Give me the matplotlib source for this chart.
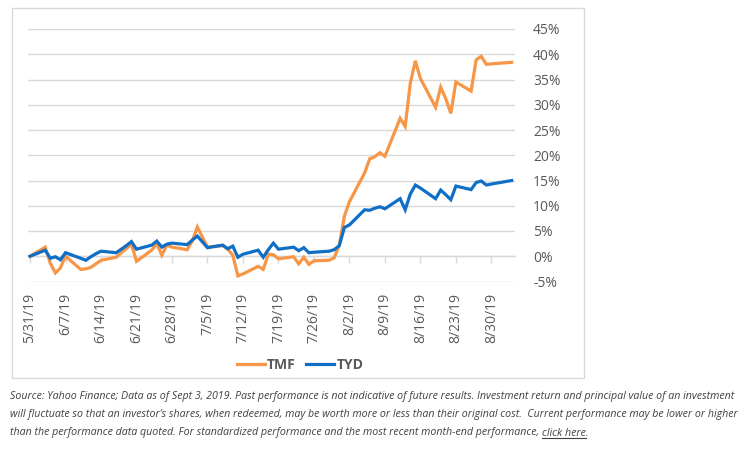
import matplotlib
matplotlib.use('Agg')
import matplotlib.pyplot as plt
import matplotlib.dates as mdates
from matplotlib.patches import Rectangle
from matplotlib.ticker import FuncFormatter
import pandas as pd

# trading days, 5/31/19 .. 9/3/19
dates = ['5/31/19',
         '6/3/19', '6/4/19', '6/5/19', '6/6/19', '6/7/19',
         '6/10/19', '6/11/19', '6/12/19', '6/13/19', '6/14/19',
         '6/17/19', '6/18/19', '6/19/19', '6/20/19', '6/21/19',
         '6/24/19', '6/25/19', '6/26/19', '6/27/19', '6/28/19',
         '7/1/19', '7/2/19', '7/3/19', '7/5/19',
         '7/8/19', '7/9/19', '7/10/19', '7/11/19', '7/12/19',
         '7/15/19', '7/16/19', '7/17/19', '7/18/19', '7/19/19',
         '7/22/19', '7/23/19', '7/24/19', '7/25/19', '7/26/19',
         '7/29/19', '7/30/19', '7/31/19', '8/1/19', '8/2/19',
         '8/5/19', '8/6/19', '8/7/19', '8/8/19', '8/9/19',
         '8/12/19', '8/13/19', '8/14/19', '8/15/19', '8/16/19',
         '8/19/19', '8/20/19', '8/21/19', '8/22/19', '8/23/19',
         '8/26/19', '8/27/19', '8/28/19', '8/29/19', '8/30/19',
         '9/3/19']

tmf = [0.0,
       1.8, -1.4, -3.3, -2.3, 0.0,
       -2.6, -2.5, -2.2, -1.5, -0.8,
       -0.2, 0.7, 1.5, 2.4, -1.0,
       1.2, 2.5, 0.2, 2.2, 1.8,
       1.3, 3.0, 5.8, 1.8,
       2.1, 1.4, 0.2, -3.9, -3.5,
       -2.0, -2.6, 0.4, 0.3, -0.5,
       -0.1, -1.5, -0.2, -1.6, -0.9,
       -0.8, -0.3, 2.2, 7.9, 10.8,
       16.5, 19.3, 19.7, 20.5, 19.8,
       27.3, 25.7, 34.2, 38.7, 35.2,
       29.5, 33.5, 31.2, 28.3, 34.5,
       32.7, 38.9, 39.6, 38.0, 38.1,
       38.4]

tyd = [0.0,
       1.2, -0.4, -0.1, -0.7, 0.7,
       -0.4, -0.8, -0.1, 0.5, 1.0,
       0.7, 1.4, 2.1, 2.9, 1.4,
       2.2, 3.0, 1.8, 2.4, 2.6,
       2.3, 3.2, 4.0, 1.7,
       2.2, 1.5, 2.0, -0.2, 0.4,
       1.2, -0.2, 1.3, 2.6, 1.4,
       1.8, 1.1, 1.7, 0.7, 0.8,
       1.0, 1.3, 2.1, 5.7, 6.2,
       9.2, 9.1, 9.5, 9.8, 9.4,
       11.4, 9.2, 12.3, 14.1, 13.5,
       11.4, 13.1, 12.2, 11.2, 13.9,
       13.2, 14.6, 14.9, 14.1, 14.3,
       15.0]

tick_labels = ['5/31/19', '6/7/19', '6/14/19', '6/21/19', '6/28/19', '7/5/19', '7/12/19',
               '7/19/19', '7/26/19', '8/2/19', '8/9/19', '8/16/19', '8/23/19', '8/30/19']

foot = ["Source: Yahoo Finance; Data as of Sept 3, 2019. Past performance is not indicative of future results. Investment return and principal value of an investment",
        "will fluctuate so that an investor\u2019s shares, when redeemed, may be worth more or less than their original cost.  Current performance may be lower or higher",
        "than the performance data quoted. For standardized performance and the most recent month-end performance, "]

plt.rcParams['font.family'] = ['Open Sans', 'DejaVu Sans']
foot_font = ['Liberation Sans Narrow', 'Open Sans', 'DejaVu Sans']

x = pd.to_datetime(dates, format='%m/%d/%y')
ticks = pd.to_datetime(tick_labels, format='%m/%d/%y')

W, H = 750, 453
fig = plt.figure(figsize=(7.5, 4.53), dpi=100)
ax = fig.add_axes([28 / W, 1 - 281.5 / H, (515 - 28) / W, (281.5 - 29) / H])

grey = '#d9d9d9'
txt = '#595959'
orange = '#f79646'
blue = '#0f6fc6'

ax.plot(x, tmf, color=orange, lw=2.3, label='TMF', solid_joinstyle='miter', zorder=3)
ax.plot(x, tyd, color=blue, lw=2.3, label='TYD', solid_joinstyle='miter', zorder=4)

ax.set_ylim(-5, 45)
ax.set_yticks(range(-5, 46, 5))
ax.yaxis.set_major_formatter(FuncFormatter(lambda v, p: '%d%%' % v))
ax.yaxis.tick_right()
ax.tick_params(axis='y', length=0, pad=13, labelsize=10, labelcolor=txt)
ax.grid(axis='y', color=grey, lw=1)
ax.set_axisbelow(True)

x0 = mdates.date2num(x[0])
ax.set_xlim(x0 - 0.4, x0 + 95.66)
ax.set_xticks(ticks)
ax.set_xticklabels(tick_labels, rotation=90)
ax.tick_params(axis='x', length=0, pad=8, labelsize=10, labelcolor=txt)

for s in ax.spines.values():
    s.set_visible(False)

# category axis drawn at 0% with small tick marks
sec = ax.secondary_xaxis(5 / 50)
sec.set_xticks(ticks)
sec.set_xticklabels([])
sec.tick_params(axis='x', length=5, width=1, color=grey, direction='out')
sec.spines['bottom'].set_color(grey)
sec.spines['bottom'].set_linewidth(1)

leg = fig.legend(loc='center', bbox_to_anchor=(300 / W, 1 - 365 / H), ncol=2, frameon=False,
                 handlelength=2.0, handletextpad=0.15, columnspacing=0.8,
                 prop={'size': 10, 'weight': 'bold'})
for t in leg.get_texts():
    t.set_color(txt)

# chart border
fig.patches.append(Rectangle((12 / W, 1 - 378 / H), (584 - 12) / W, (378 - 8) / H,
                             transform=fig.transFigure, fill=False, ec=grey, lw=1))

# footnote, sized so the first line spans about 10..742 px
r = fig.canvas.get_renderer()
probe = fig.text(0, 0, foot[0], fontsize=9, style='italic', family=foot_font)
fs = min(9.5, 9 * 730 / probe.get_window_extent(r).width)
probe.remove()

fc = '#404040'
for i, line in enumerate(foot):
    fig.text(10 / W, 1 - (397 + 18 * i) / H, line, fontsize=fs, style='italic',
             family=foot_font, color=fc, va='center', ha='left')

bb = fig.texts[-1].get_window_extent(r)
ch = fig.text(bb.x1 / W, 1 - 433 / H, 'click here', fontsize=fs, style='italic',
              family=foot_font, color=fc, va='center', ha='left')
bb2 = ch.get_window_extent(r)
fig.add_artist(plt.Line2D([bb2.x0 / W, bb2.x1 / W], [(bb2.y0 + 1) / H, (bb2.y0 + 1) / H],
                          color=fc, lw=0.8, transform=fig.transFigure))
fig.text(bb2.x1 / W, 1 - 433 / H, '.', fontsize=fs, style='italic',
         family=foot_font, color=fc, va='center', ha='left')

fig.savefig('out.png', dpi=100)
